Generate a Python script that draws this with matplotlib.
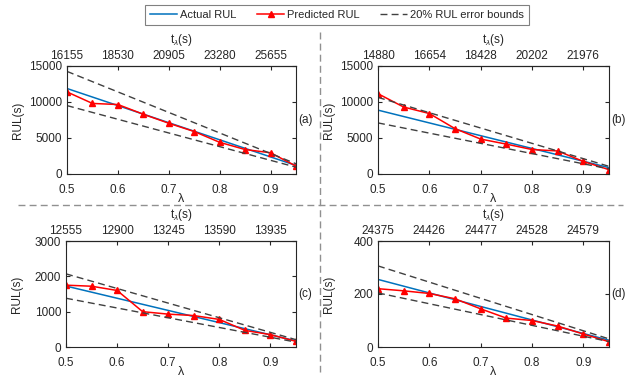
import numpy as np
import matplotlib.pyplot as plt
from matplotlib.lines import Line2D

plt.rcParams['font.family'] = ['Liberation Sans', 'DejaVu Sans']
plt.rcParams['mathtext.fontset'] = 'custom'
plt.rcParams['mathtext.rm'] = 'Liberation Sans'
plt.rcParams['mathtext.it'] = 'Liberation Sans:italic'
plt.rcParams['font.size'] = 8

W, H = 639, 379
TEXT_COLOR = '#262626'
BLUE = '#0072BD'

LAMBDA = [0.5, 0.55, 0.6, 0.65, 0.7, 0.75, 0.8, 0.85, 0.9, 0.95]
TOP_TICKS = [0.5, 0.6, 0.7, 0.8, 0.9]

# (a)
ACTUAL_A = [11875, 10687.5, 9500, 8312.5, 7125, 5937.5, 4750, 3562.5, 2375, 1187.5]
PRED_A = [11400, 9800, 9650, 8300, 7050, 5900, 4400, 3400, 2950, 1100]
TOP_A = ['16155', '18530', '20905', '23280', '25655']
YTICKS_A = [0, 5000, 10000, 15000]

# (b)
ACTUAL_B = [8870, 7983, 7096, 6209, 5322, 4435, 3548, 2661, 1774, 887]
PRED_B = [11150, 9300, 8400, 6300, 4850, 4150, 3400, 3200, 1750, 600]
TOP_B = ['14880', '16654', '18428', '20202', '21976']
YTICKS_B = [0, 5000, 10000, 15000]

# (c)
ACTUAL_C = [1725, 1552.5, 1380, 1207.5, 1035, 862.5, 690, 517.5, 345, 172.5]
PRED_C = [1750, 1720, 1600, 1000, 930, 890, 780, 470, 350, 160]
TOP_C = ['12555', '12900', '13245', '13590', '13935']
YTICKS_C = [0, 1000, 2000, 3000]

# (d)
ACTUAL_D = [255, 229.5, 204, 178.5, 153, 127.5, 102, 76.5, 51, 25.5]
PRED_D = [220, 212, 202, 182, 144, 109, 100, 79, 49, 20]
TOP_D = ['24375', '24426', '24477', '24528', '24579']
YTICKS_D = [0, 200, 400]

PANELS = [
    ('(a)', ACTUAL_A, PRED_A, TOP_A, YTICKS_A, (67, 296, 66, 174)),
    ('(b)', ACTUAL_B, PRED_B, TOP_B, YTICKS_B, (378, 609, 66, 174)),
    ('(c)', ACTUAL_C, PRED_C, TOP_C, YTICKS_C, (66, 296, 241, 347)),
    ('(d)', ACTUAL_D, PRED_D, TOP_D, YTICKS_D, (378, 609, 241, 347)),
]


def px_rect(left, right, top, bottom):
    return [left / W, (H - bottom) / H, (right - left) / W, (bottom - top) / H]


def draw_panel(fig, tag, actual, pred, top_labels, yticks, box):
    ax = fig.add_axes(px_rect(*box))
    actual = np.array(actual)
    ax.plot(LAMBDA, actual, color=BLUE, lw=1.1, label='Actual RUL')
    ax.plot(LAMBDA, pred, color='red', lw=1.1, marker='^', ms=5,
            label='Predicted RUL')
    ax.plot(LAMBDA, actual * 1.2, color='#404040', lw=1.0, ls=(0, (5, 3)),
            label='20% RUL error bounds')
    ax.plot(LAMBDA, actual * 0.8, color='#404040', lw=1.0, ls=(0, (5, 3)))

    ax.set_xlim(0.5, 0.95)
    ax.set_ylim(yticks[0], yticks[-1])
    ax.set_xticks(TOP_TICKS)
    ax.set_xticklabels(['0.5', '0.6', '0.7', '0.8', '0.9'])
    ax.set_yticks(yticks)
    ax.tick_params(direction='in', length=3, top=False, right=True,
                   colors=TEXT_COLOR, labelsize=8.5)
    ax.tick_params(axis='x', pad=7)
    ax.tick_params(axis='y', pad=3.5)
    ax.set_xlabel('λ', color=TEXT_COLOR, fontsize=9, labelpad=-2)
    ax.set_ylabel('RUL(s)', color=TEXT_COLOR, fontsize=8.5)
    ax.yaxis.set_label_coords(-43 / (box[1] - box[0]), 0.5)
    for s in ax.spines.values():
        s.set_color('#262626')
        s.set_linewidth(0.8)

    top = ax.secondary_xaxis('top')
    top.set_xticks(TOP_TICKS)
    top.set_xticklabels(top_labels)
    top.tick_params(direction='in', length=3, colors=TEXT_COLOR,
                    labelsize=8.5, pad=3)
    top.set_xlabel('t$_\\lambda$(s)', color=TEXT_COLOR, fontsize=8.5,
                   labelpad=5)
    top.spines['top'].set_linewidth(0.8)

    ax.text(1.01, 0.5, tag, transform=ax.transAxes, ha='left', va='center',
            color=TEXT_COLOR, fontsize=8.5)
    return ax


def main():
    fig = plt.figure(figsize=(W / 100, H / 100), dpi=100)
    axes = []
    for tag, actual, pred, top_labels, yticks, box in PANELS:
        axes.append(draw_panel(fig, tag, actual, pred, top_labels, yticks, box))

    # dashed separators between the four panels
    fig.add_artist(Line2D([319.5 / W, 319.5 / W], [1 - 32 / H, 1 - 372 / H],
                          transform=fig.transFigure, color='#909090',
                          lw=1.0, ls=(0, (5, 3))))
    fig.add_artist(Line2D([18 / W, 623 / W], [1 - 205 / H, 1 - 205 / H],
                          transform=fig.transFigure, color='#909090',
                          lw=1.0, ls=(0, (5, 3))))

    handles, labels = axes[0].get_legend_handles_labels()
    leg = fig.legend(handles, labels, ncol=3, loc='center',
                     bbox_to_anchor=(337 / W, 1 - 15 / H), fontsize=8,
                     frameon=True, fancybox=False, framealpha=1,
                     edgecolor='#808080', handlelength=2.4, columnspacing=1.9,
                     borderpad=0.45, handletextpad=0.25, markerscale=0.8)
    leg.get_frame().set_linewidth(0.8)
    for t in leg.get_texts():
        t.set_color(TEXT_COLOR)

    fig.savefig('out.png', dpi=100)


if __name__ == '__main__':
    main()
